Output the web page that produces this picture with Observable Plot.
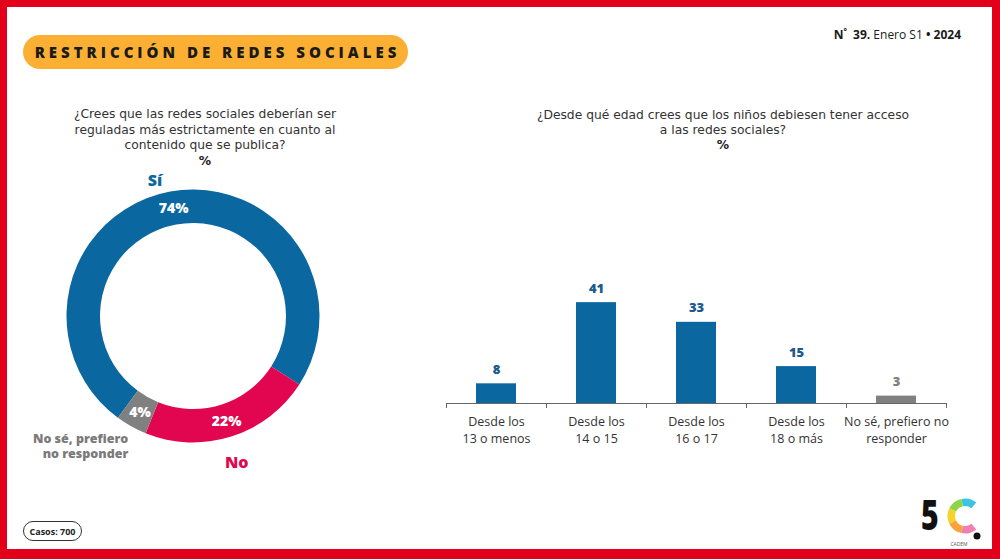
<!DOCTYPE html>
<html><head><meta charset="utf-8">
<script src="https://cdn.jsdelivr.net/npm/d3@7"></script>
<script src="https://cdn.jsdelivr.net/npm/@observablehq/plot@0.6"></script>
<style>
body{margin:0;background:#fff;}
#page{position:relative;width:1000px;height:559px;overflow:hidden;background:#fff;font-family:"Open Sans",sans-serif;color:#333;}
#frame{position:absolute;left:0;top:0;width:1000px;height:559px;box-sizing:border-box;border-style:solid;border-color:#e3001b;border-width:7px 8px 10px 7px;pointer-events:none;}
#badge{position:absolute;left:23px;top:35px;width:385px;height:34px;border-radius:17px;background:#fbb034;display:flex;align-items:center;justify-content:center;font-weight:800;font-size:15px;letter-spacing:4px;color:#1a1a1a;padding-left:4px;box-sizing:border-box;}
#issue{position:absolute;right:39px;top:23px;font-size:12px;line-height:16px;color:#1a1a1a;}
.q{position:absolute;text-align:center;font-family:"DejaVu Sans",sans-serif;font-size:12.3px;line-height:15.5px;color:#333;}
.q b{color:#1a1a1a;}
#casos{position:absolute;left:23px;top:521px;width:57px;height:18px;border:1.5px solid #333;border-radius:11px;display:flex;align-items:center;justify-content:center;font-size:9px;font-weight:700;color:#222;}
#donut{position:absolute;left:23px;top:146px;}
#bars{position:absolute;left:430px;top:270px;}
#logo{position:absolute;left:915px;top:480px;}
</style>
</head>
<body>
<div id="page">
  <div id="badge">RESTRICCIÓN DE REDES SOCIALES</div>
  <div id="issue"><b>N<sup style="font-size:8px">°</sup>&nbsp; 39.</b> Enero S1 <b>• 2024</b></div>
  <div class="q" style="left:55px;top:107px;width:300px;">¿Crees que las redes sociales deberían ser<br>reguladas más estrictamente en cuanto al<br>contenido que se publica?<br><b>%</b></div>
  <div class="q" style="left:493px;top:107.5px;width:460px;line-height:15px;">¿Desde qué edad crees que los niños debiesen tener acceso<br>a las redes sociales?<br><b>%</b></div>
  <div id="donut"></div>
  <div id="bars"></div>
  <div id="casos">Casos: 700</div>
  <svg id="logo" width="75" height="75"></svg>
  <div id="frame"></div>
</div>
<script>
// ---- Data ----
const donutCategories = ["Sí", "No", "No sé, prefiero\nno responder"];
const donutValues = [74, 22, 4];
const donutColors = ["#0b679f", "#e1064f", "#808080"];

const barCategories = ["Desde los\n13 o menos", "Desde los\n14 o 15", "Desde los\n16 o 17", "Desde los\n18 o más", "No sé, prefiero no\nresponder"];
const barValues = [8, 41, 33, 15, 3];
const barColors = ["#0b679f", "#0b679f", "#0b679f", "#0b679f", "#808080"];
const barLabelColors = ["#1d5a8c", "#1d5a8c", "#1d5a8c", "#1d5a8c", "#808080"];

// ---- Donut ----
const donutData = donutCategories.map((c, i) => ({category: c, value: donutValues[i], color: donutColors[i]}));
const startAngle = -143.6 * Math.PI / 180;
const pie = d3.pie().value(d => d.value).sort(null).startAngle(startAngle).endAngle(startAngle + 2 * Math.PI);
const arcs = pie(donutData);
const innerR = 93, outerR = 126.5;
const ringArc = d3.arc().innerRadius(innerR).outerRadius(outerR);
const labelArc = r => d3.arc().innerRadius(r).outerRadius(r);

const ringMark = (index, scales) => {
  const cx = scales.x(0), cy = scales.y(0), k = scales.x(1) - scales.x(0);
  const g = d3.create("svg:g").attr("transform", `translate(${cx},${cy})`);
  g.selectAll("path").data(arcs).join("path")
    .attr("d", d3.arc().innerRadius(innerR * k).outerRadius(outerR * k))
    .attr("fill", d => d.data.color);
  return g.node();
};

const outer = (i, r) => labelArc(r).centroid(arcs[i]);

const donut = Plot.plot({
  width: 340, height: 340, margin: 0,
  x: {domain: [-170, 170], range: [0, 340], axis: null},
  y: {domain: [-170, 170], range: [0, 340], axis: null},
  style: {background: "transparent", overflow: "visible", fontFamily: "Open Sans, sans-serif"},
  marks: [
    ringMark,
    Plot.text(arcs, {x: d => ringArc.centroid(d)[0], y: d => ringArc.centroid(d)[1], text: d => d.data.value + "%", fill: "white", fontWeight: 800, fontSize: 14}),
    Plot.text([arcs[0]], {x: () => outer(0, 141)[0], y: () => outer(0, 141)[1], text: d => d.data.category, dx: -13, dy: 3, fill: donutColors[0], fontWeight: 800, fontSize: 16}),
    Plot.text([arcs[1]], {x: () => outer(1, 153)[0], y: () => outer(1, 153)[1], text: d => d.data.category, dx: -3, dy: 1, fill: donutColors[1], fontWeight: 800, fontSize: 16}),
    Plot.text([arcs[2]], {x: () => outer(2, 150)[0], y: () => outer(2, 150)[1], text: d => d.data.category, dx: 8, dy: -2, textAnchor: "end", fill: "#7a7a7a", fontWeight: 800, fontSize: 12.5, lineHeight: 1.2})
  ]
});
document.getElementById("donut").appendChild(donut);

// ---- Bars ----
const barData = barCategories.map((c, i) => ({cat: c, value: barValues[i], color: barColors[i], labelColor: barLabelColors[i]}));
const bars = Plot.plot({
  width: 560, height: 190, marginLeft: 16, marginRight: 44, marginTop: 10, marginBottom: 57,
  x: {domain: barCategories, paddingInner: 0.6, paddingOuter: 0.3, axis: null},
  y: {domain: [0, 50], axis: null},
  color: {type: "identity"},
  style: {background: "transparent", overflow: "visible", fontFamily: "Open Sans, sans-serif"},
  marks: [
    Plot.barY(barData, {x: "cat", y: "value", fill: "color"}),
    Plot.ruleY([0], {stroke: "#666", strokeWidth: 1}),
    Plot.ruleX(barCategories, {x: d => d, y1: 0, y2: 0, insetBottom: -5, dx: -50, stroke: "#666"}),
    Plot.ruleX(barCategories.slice(-1), {x: d => d, y1: 0, y2: 0, insetBottom: -5, dx: 50, stroke: "#666"}),
    Plot.text(barData, {x: "cat", y: "value", text: d => String(d.value), dy: -14, fill: "labelColor", fontWeight: 800, fontSize: 13}),
    Plot.text(barCategories, {x: d => d, y: 0, dy: 11, lineAnchor: "top", text: d => d, fontSize: 12.5, lineHeight: 1.35, fill: "#333"})
  ]
});
document.getElementById("bars").appendChild(bars);

// ---- Logo (decoration) ----
const logo = d3.select("#logo");
logo.append("g").attr("transform", "translate(6,50) scale(0.72,1)")
  .append("text").attr("font-size", 42).attr("font-weight", 900)
  .attr("font-family", "Open Sans, sans-serif").attr("fill", "#111").text("5");
const cCols = ["#3cc5e3", "#8fd24c", "#f6d32b", "#f7a43a", "#f27fb3"];
const cArc = d3.arc().innerRadius(10).outerRadius(17.5);
const seg = 52 * Math.PI / 180, a0 = 40 * Math.PI / 180;
cCols.forEach((c, i) => {
  logo.append("path").attr("transform", "translate(50,36)")
    .attr("d", cArc({startAngle: a0 - i * seg, endAngle: a0 - (i + 1) * seg}))
    .attr("fill", c);
});
logo.append("circle").attr("cx", 62).attr("cy", 56).attr("r", 3.5).attr("fill", "#111");
logo.append("text").attr("x", 44).attr("y", 66).attr("text-anchor", "middle").attr("font-size", 5)
  .attr("font-family", "Open Sans, sans-serif").attr("fill", "#555").text("CADEM");
</script>
</body></html>
